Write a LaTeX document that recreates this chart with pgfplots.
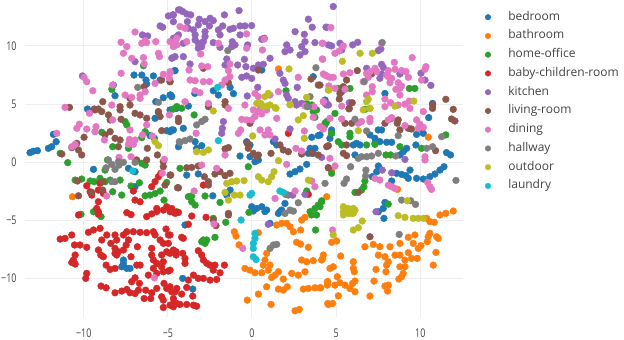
\documentclass[border=0pt]{standalone}
\usepackage{fontspec}
\setmainfont{Open Sans}
\newfontfamily\tickfont[FakeStretch=0.74]{Open Sans}
\usepackage{pgfplots}
\pgfplotsset{compat=1.18}
\definecolor{c1}{HTML}{1F77B4}
\definecolor{c2}{HTML}{FF7F0E}
\definecolor{c3}{HTML}{2CA02C}
\definecolor{c4}{HTML}{D62728}
\definecolor{c5}{HTML}{9467BD}
\definecolor{c6}{HTML}{8C564B}
\definecolor{c7}{HTML}{E377C2}
\definecolor{c8}{HTML}{7F7F7F}
\definecolor{c9}{HTML}{BCBD22}
\definecolor{c10}{HTML}{17BECF}
\definecolor{txt}{HTML}{444444}
\definecolor{gridc}{HTML}{EEEEEE}
\pgfplotsset{pt/.style={only marks,mark=*,mark size=3.4pt,color=#1,mark options={draw=none,fill=#1}}}
\begin{document}
\begin{tikzpicture}
\path[use as bounding box] (-25pt,-23pt) rectangle (599pt,317pt);
\begin{axis}[
  scale only axis,width=438pt,height=317pt,
  xmin=-13.49,xmax=12.54,ymin=-13.3,ymax=13.95,
  axis line style={draw=none},clip=false,
  xtick={-10,-5,0,5,10},xticklabels={−10,−5,0,5,10},
  ytick={-10,-5,0,5,10},yticklabels={−10,−5,0,5,10},
  major tick length=0pt,
  tick label style={font=\tickfont\fontsize{12}{14}\selectfont,text=txt},
  xticklabel style={yshift=-8pt},
  yticklabel style={xshift=-5pt},
  grid=major,major grid style={draw=gridc,line width=1pt},
  axis on top=false,
  legend style={at={(460pt,306pt)},anchor=north west,draw=none,fill=none,inner sep=0pt,
    font=\fontsize{12}{14}\selectfont,text=txt,row sep=6.75pt,
    /tikz/every odd column/.append style={column sep=17.5pt},
    nodes={inner sep=0pt,text height=9pt,text depth=3pt}},
  legend cell align=left,
  legend image post style={mark size=2.8pt},
]
\addplot[pt=c1] coordinates {(-8.24,6.64)(-8.14,5.72)(-7.01,7.5)(-6.55,7.5)(-6.3,7.07)(-6.26,6.73)(-5.86,7.42)(-5.46,7.07)(-4.83,5.78)(-5.27,5.55)(-5.72,5.21)(-4.61,7.87)(-4.57,4.63)(-9.78,4.58)
(-13.19,.83)(-13,.95)(-12.75,1)(-12.1,1.2)(-11.9,1.34)(-11.64,1.77)(-11.8,2.4)(-9.42,-.61)(-5.76,3.78)(-5.56,4.3)(-6.06,2.29)(-5.8,2.06)(-5.07,2.72)(-4.77,2.78)(-4.87,4.5)(-4.47,4.64)(-7.34,-.52)(-6.95,-.81)(-6.95,-2.1)(-4.37,1.34)
(-4.87,2.63)(-4.67,2.78)(-4.08,2.92)(-3.38,1.77)(-3.29,1.2)(-2.99,1.43)(-3.88,-1.1)(-3.19,-1)(-.71,.54)(-.32,1.77)(-.12,1.49)(-.12,.48)(.18,.05)(.38,.19)(1.27,1.77)(1.47,1.49)(2.26,-1.01)(2.56,-.81)(2.85,-.58)(3.25,-.18)(3.45,1.2)(3.74,1.2)(3.64,.77)(3.35,.77)(3.55,2.15)(3.94,2.29)(-1.3,-2.39)(-1.5,-2.82)(-.02,-3.82)(.28,-3.97)(.58,-3.82)(.87,-4.11)(1.96,-3.54)(1.76,-4.11)(1.57,-4.4)(-2.33,-2.88)
(-2.3,6.15)(-2,5.78)(-1.5,7.07)(-1.3,6.44)(-1.1,5.9)(-4.87,5.78)(-4.77,5.64)(-4.57,7.88)(-3.4,5.92)(-3.78,4.83)(3.64,7.36)(.58,7.93)
(4.73,2.78)(4.63,2.06)(4.73,2.49)(7.7,2.78)(7.5,2.78)(7.01,2.35)(7.31,2.06)(7.31,1.63)(7.6,1.77)(8,1.72)(8.3,1.72)(6.22,1.63)(6.02,1.49)(6.42,1.49)(6.12,.63)(4.04,2.35)(10.5,3.84)(9.78,2.4)(10.18,2.49)(9.98,2.92)(9.19,1.2)(8.99,.91)(8.79,.63)(9.74,1.49)(11.56,.83)(11.8,.63)(7.51,-.32)(7.41,-.81)(7.15,-1.24)(8.59,-.95)(8.89,-1.04)(9.15,-1.15)(9.29,-1.38)(9.39,-.67)(8.3,-1.61)(9.78,-1.38)(10.18,-1.44)(10.57,-1.24)(10.87,-1.01)(11.17,-.67)(11.41,-.38)(7.51,-4.25)(7.8,-3.97)(7.9,-3.45)(7.84,-4.82)
(7.9,5.92)(10.73,5.06)(4.34,5.35)(-3.98,-5.39)(-4.12,-9.98)(-3.52,-10.9)(1.07,-5.25)(-7.64,-8.4)(-7.74,-8.98)(-7.44,-9.12)(-7.25,-9.12)(-7.64,-8.7)(.08,-4.19)(.77,-4.24)(1.66,-4.24)};
\addlegendentry{bedroom}
\addplot[pt=c2] coordinates {(-1.05,-5.97)(-.95,-6.34)(-.77,-7.1)(.38,-6.05)(1.47,-5.39)(1.76,-5.25)(2.06,-5.25)(2.26,-5.54)(2.46,-5.97)(2.95,-4.96)(3.15,-4.73)(2.89,-5.82)(2.65,-6.88)(2.89,-7.03)(3.35,-7.31)(4.24,-7.97)(4.14,-8.4)(2.95,-8.4)(3.25,-8.55)(3.64,-8.46)(.87,-7.83)(.77,-8.4)(.67,-8.84)(1.07,-8.84)(-.42,-9.12)(-.12,-9.27)(.18,-9.5)(.58,-9.5)(.97,-9.27)(1.57,-9.41)(1.37,-9.7)(1.17,-9.9)(1.86,-10.04)(2.36,-9.55)(2.75,-9.7)(3.15,-9.41)(.87,-10.7)(1.57,-10.9)(1.86,-10.99)(2.1,-10.7)(3.05,-10.9)(3.35,-10.84)(3.74,-10.79)(4.08,-10.79)(4.5,-10.27)(4.5,-12.14)(.38,-11.33)(-.28,-11.85)(1.13,-12.22)(2.56,-12.77)(2.81,-12.65)
(11.96,-4.19)(11.52,-4.39)(11.17,-4.53)(10.38,-4.82)(10.57,-5.1)(10.83,-5.16)(10.47,-6.4)(10.57,-6.11)(10.97,-6.4)(11.07,-6.54)(10.42,-6.83)(9.29,-6.45)(9.68,-6.25)(9.58,-6.97)(9.88,-7.4)(10.04,-7.17)(10.93,-7.75)(10.77,-8.84)(8.79,-6.97)(8.2,-7.26)(7.6,-7.26)(7.21,-7.06)(6.71,-7.26)(7.51,-7.98)(8.5,-7.98)(8.79,-7.98)(9.29,-7.77)(7.9,-8.12)(8.1,-8.55)(8,-8.84)(9.09,-8.41)(9.48,-8.26)(9.82,-8.26)(8.79,-8.98)(9.09,-8.98)(7.37,-9.21)(7.96,-9.41)(8.99,-9.55)(8.89,-9.84)(8.73,-10.04)(7.25,-10.21)(7.9,-10.64)(8.1,-10.56)(8.06,-11.07)(7.01,-11.5)(6.02,-8.55)(6.02,-9.12)(6.08,-9.41)(6.12,-10.21)(5.98,-10.41)(5.27,-8.06)(4.83,-8.98)(4.63,-9.12)(5.07,-9.84)(5.23,-10.36)(5.53,-10.56)(5.82,-10.85)(6.12,-11.13)(4.48,-10.27)(4.48,-10.56)(4.93,-10.56)(4.04,-10.79)(5.13,-11.48)(4.54,-12.22)(4.79,-12.14)(4.73,-6.88)(5.03,-6.77)(4.2,-8.26)
(10.48,2.15)(8.65,-2.33)(4.44,-2.96)(4.73,-.75)(-10.67,-2.96)(1.57,8.02)};
\addlegendentry{bathroom}
\addplot[pt=c3] coordinates {(-10.95,-.03)(-10.51,-1.53)(-10.12,-1.44)(-9.62,-1.61)(-9.38,-1.67)(-9.03,-1.38)(-8.73,-1.67)(-8.43,-1.53)(-7.84,-1.53)(-8.28,-2.53)(-7.74,-2.82)(-7.19,-2.04)(-6.69,-1.76)(-6.35,-2.88)(-6.06,-2.82)(-5.76,-2.68)(-5.46,-2.47)(-5.07,-1.73)(-5.23,-3.25)(-9.42,-4.25)(-8.93,2.58)(-8.28,1.34)(-7.54,3.5)(-7.44,3.21)(-7.34,1.2)(-6.35,2.63)(-6.55,2.12)(-6.55,-.09)(-6.35,-.24)(-8.59,.2)(-8.73,-.67)(-11.4,.77)(-4.47,-4.25)(-4.67,4.58)
(-3.44,4.07)(-4.28,-.52)(-.22,-.38)(-3.78,-2.96)(-3.58,-2.88)(-2.79,-2.9)(-3.58,-3.39)(-3.38,-3.68)(-1.9,-3.45)(-.18,-4.31)(3.45,-4.25)(3.74,-3.97)(3.94,-3.68)(4.14,-3.31)(4.34,3.21)(4.44,3.5)(3.74,3.87)(3.55,4.93)(3.84,4.5)(3.64,4.36)(-4.18,4.64)(-4.47,4.79)(3.25,-2.47)
(4.73,2.49)(4.34,3.35)(4.93,4.2)(5.13,1.77)(5.33,1.49)(5.82,2.49)(5.82,2.2)(6.81,1.49)(7.31,1.54)(8.79,1.34)(7.96,.63)(8.24,.63)(10.08,1.2)(11.52,2.35)(4.73,-.95)(6.71,-1.61)(6.65,-2.1)(6.51,-2.39)(6.12,-2.59)(8.1,-3.6)(4.14,-3.4)(4.04,-3.82)
(5.82,6.35)(5.13,6.35)(9.35,6.35)(9.68,6.35)(6.71,4.55)(2.02,6.15)(3.25,5.06)(-6.45,8.3)(-8.33,6.27)
(-2.89,-6.68)(-2.79,-6.97)(-2.99,-6.83)(-2.69,-6.68)(-2.2,-6.45)(-1.56,-5.16)(-2.3,-4.82)(3.78,-5.82)(3.54,-4.53)(3.84,-4.53)(-10.16,-4.47)(-8.97,-4.67)};
\addlegendentry{home-office}
\addplot[pt=c4] coordinates {(-10.31,-4.53)(-9.13,-4.47)(-7.44,-4.33)(-7.19,-4.5)(-6.26,-4.67)(-5.96,-4.44)(-5.66,-4.24)(-4.77,-4.24)(-4.57,-4.39)(-11.4,-6.6)(-11.11,-6.54)(-10.71,-6.25)(-9.72,-6.02)(-9.42,-5.82)(-9.03,-5.68)(-8.93,-6.68)(-8.63,-6.25)(-8.14,-6.25)(-8.04,-6.68)(-8.39,-6.97)(-7.64,-6.25)(-7.44,-5.97)(-7.05,-5.97)(-7.34,-6.68)(-7.48,-7.11)(-6.65,-6.02)(-6.26,-6.05)(-5.86,-5.97)(-5.76,-6.25)(-5.11,-5.74)(-4.97,-6.25)(-5.46,-6.68)(-5.27,-6.97)(-4.97,-6.97)(-10.55,-7.11)(-10.22,-7.11)(-9.82,-7.31)(-10.51,-7.97)(-10.61,-8.4)(-10.71,-8.61)(-10.51,-8.75)(-9.13,-7.54)(-8.99,-7.97)(-8.83,-8.12)(-8.14,-7.4)(-7.94,-7.69)(-7.64,-7.54)(-8.14,-7.83)(-8.04,-7.97)(-6.81,-7.26)(-7.19,-8.12)(-5.96,-7.4)(-5.96,-7.97)(-5.86,-8.4)(-5.66,-8.69)(-5.37,-7.97)(-5.07,-7.69)(-4.67,-7.54)(-4.51,-7.97)(-5.27,-8.55)(-5.37,-8.98)(-5.27,-9.41)(-4.97,-9.35)(-8.67,-8.84)(-8.43,-9.21)(-8.14,-9.12)(-6.85,-8.84)(-6.65,-8.84)(-5.86,-9.12)(-6.16,-9.7)(-5.66,-9.55)(-9.82,-9.55)(-9.88,-9.98)(-6.95,-9.93)(-7.15,-10.27)(-6.69,-10.41)(-7.44,-10.93)(-7.25,-11.22)(-6.95,-11.28)(-6.75,-10.99)(-8.14,-11.22)(-7.74,-11.07)(-8.97,-10.64)(-8.67,-10.79)(-6.32,-10.99)(-5.96,-11.22)(-5.66,-10.84)(-6.41,-11.71)(-6.02,-11.71)(-5.37,-11.56)(-5.27,-11.85)(-5.23,-10.41)(-5.07,-10.84)(-4.77,-11.13)(-4.47,-10.84)(-4.67,-11.71)(-4.87,-12.28)(-5.27,-12.48)(-4.47,-12.14)
(-3.58,-4.62)(-2.73,-4.73)(-3.78,-5.33)(-4.87,-6.25)(-4.18,-6.45)(-4.08,-6.54)(-4.67,-7.6)(-4.51,-7.69)(-4.87,-7.83)(-4.12,-7.83)(-3.98,-8.26)(-3.98,-8.69)(-3.19,-7.6)(-2.99,-7.97)(-2.89,-8.4)(-2.69,-8.69)(-2.49,-8.84)(-2.2,-8.84)(-2.3,-9.27)(-1.64,-8.84)(-1.9,-9.5)(-3.78,-10.13)(-3.48,-9.7)(-3.19,-9.98)(-2.89,-9.98)(-2.49,-10.13)(-2.1,-10.07)(-4.87,-9.27)(-4.87,-10.7)(-4.57,-11.13)(-4.18,-11.33)(-3.88,-10.76)(-3.52,-11.5)(-4.28,-12.22)(-3.88,-12.22)(-3.48,-12.28)(-3.29,-12.37)(-4.67,-12.14)(-4.67,-12.42)
(-9.82,-2.02)(-9.03,-1.81)(-9.13,-2.39)(-9.62,-2.53)(-9.52,-2.82)(-8.83,-2.68)(-9.13,-3.39)(-9.23,-3.97)(-9.13,-4.25)(-7.05,-2.47)(-6.95,-3.25)(-6.65,-3.39)(-5.96,-2.1)(-5.76,-1.67)(-5.56,-1.24)(-5.42,-.95)(-5.66,-3.97)(-5.07,-3.82)(-5.27,-4.11)(-4.87,-4.25)(-4.47,-4.31)
(-2.89,-1.96)(2.16,2.49)(3.35,-2.76)(-4.77,-3.97)(-4.37,-4.31)};
\addlegendentry{baby-children-room}
\addplot[pt=c5] coordinates {(-10.08,7.42)(-6.95,8.65)(-6.51,10.95)(-6.2,10.86)(-5.46,11.72)(-5.31,11.61)(-4.97,12.58)(-4.67,12.67)(-4.67,12.09)(-4.37,13.1)(-4.67,10.66)(-4.47,10.8)(-4.77,8.94)(-4.57,9.08)
(-4.28,13.1)(-4.12,12.96)(-3.88,12.75)(-3.64,12.67)(-4.71,12.67)(-3.13,12.3)(-3.19,11.81)(-2.79,12.09)(-2.49,12.38)(-2.3,12.18)(-2.53,11.72)(-1.64,12.67)(-.77,13.04)(-3.84,12.09)(-3.78,11.52)(-3.48,11.38)(-3.38,10.95)(-1.74,11.72)(-1.31,11.43)(-1.11,11.52)(-2,11.38)(-1.9,10.95)(-2.79,11.23)(-2.79,10.8)(-.71,11.72)(-.42,11.72)(-.02,11.75)(-.71,10.95)(-4.37,10.95)(-4.57,10.66)(-4.08,10.23)(-3.38,10.52)(-3.19,10.23)(-2.89,10.37)(-3.19,9.8)(-2.99,9.94)(-2.3,10.29)(-1.9,9.88)(-1.17,10.37)(-1.01,10.09)(-1.2,9.94)(-.26,10.09)(.58,10.57)(-4.67,9.02)(-4.08,9.08)(-1.5,8.88)(-1.6,8.36)(-3.68,8.45)(-.85,8.36)(-.45,8.85)(-.36,8.22)(.38,8.36)(.67,8.42)(1.07,8.94)(.08,8.08)(-.61,7.3)(-.32,7.42)(-.02,7.21)(2.56,11.23)(3.11,11)(3.35,12.3)(3.58,11.61)(2.06,10.09)(1.96,9.51)(2.26,9.65)(3.15,10.37)(2.95,9.94)(3.15,9.51)(2.85,9.22)(3.74,10.29)(4.44,11.61)(1.66,7.65)(1.86,7.07)(1.96,6.78)(2.69,6.44)(.34,6.44)(-.28,5.7)(2.06,5.78)(2.16,5.49)(2.56,5.21)(2.95,5.06)(2.65,4.92)(4.44,5.06)
(4.83,13.39)(4.4,11.61)(5.23,10.23)(4.54,10.09)(4.73,10)(5.98,10.09)(6.28,10.31)(5.33,9.65)(7.51,9.6)(7.66,9.74)(6.81,8.08)(7.7,8.42)(7.8,8.16)(7.7,7.59)(7.6,7.22)(8.79,7.59)(10.04,7.65)(10.28,7.07)(10.63,6.61)(4.54,4.92)(4.34,5.06)(5.78,5.12)
(-1.7,3.5)(-1.76,2.92)(-1.8,2.49)(1.37,2)(2.26,2.86)(4.14,.42)(4.44,4.93)(4.53,-.47)(2.42,-2.82)(2.16,-2.82)(3.15,-2.76)(9.09,.25)(7.74,-.67)(8.3,-.9)(7.37,-4.25)(.97,-5.33)};
\addlegendentry{kitchen}
\addplot[pt=c6] coordinates {(-10.85,4.72)(-8.87,5.21)(-7.25,5.49)(-7.84,4.78)(-7.25,4.92)(-6.41,6.5)(-5.37,7.07)(-4.87,6.93)(-9.38,4.58)(-9.13,4.58)
(-11.3,.71)(-10.71,1.26)(-10.41,1.63)(-10.31,1.06)(-10.12,.63)(-9.98,2.15)(-9.33,4.5)(-8.93,4.36)(-8.53,4.07)(-8.43,3.64)(-7.84,4.5)(-7.78,3.7)(-6.95,4.21)(-6.65,4.07)(-6.26,3.78)(-5.56,4.36)(-5.46,3.93)(-8.43,2.63)(-8.73,2.35)(-8.14,2.06)(-7.84,1.92)(-7.94,1.34)(-5.37,2.72)(-6.22,1.2)(-6.85,.2)(-6.26,.2)(-5.62,.63)(-5.27,.05)(-5.27,-.38)(-10.37,-1.61)(-8.87,-1.67)(-8.87,-2.39)(-9.52,-2.59)(-10.31,-2.88)(-4.83,-1.1)(-5.17,-1.96)(-4.37,-2.19)
(-4.37,3.78)(-4.37,3.5)(-1.4,1.26)(-1.6,1.15)(-.28,1.63)(-.22,1.2)(.08,.77)(.28,.48)(.38,.62)(1.13,.77)(1.66,1.49)(1.86,1.06)(2.16,.91)(3.55,.77)(3.94,.62)(2.95,.71)(-3.88,-.47)(-3.58,-.44)(-3.19,-.32)(-4.87,-1.1)(-4.43,-2.19)(-2.2,-1.01)(-1.9,-.81)(-1.6,-1.15)(-1.31,-.95)(-2.83,-1.24)(-2.59,-1.67)(-2.59,-1.96)(-1.4,-4.4)(-.12,3.35)
(-2.89,8.08)(.38,7.93)(.73,10.66)(3.51,7.16)(3.94,6.64)(-4.87,6.93)(-1.4,6.84)(-2.59,4.78)(-1.6,5.21)(-1.6,4.92)
(6.26,7.88)(7.11,7.59)(5.62,7.07)(5.43,6.5)(5.23,5.92)(5.33,6.07)(5.19,5.44)(5.96,5.12)(4.04,6.64)(11.52,5.41)(10.73,4.92)(10.73,4.63)(11.96,4.55)(5.78,4.63)
(11.86,3.72)(12.06,3.55)(5.76,4.59)(4.44,1.34)(4.54,1.43)(5.62,1.49)(5.43,.77)(5.62,.57)(4.54,-.47)(5.92,3.35)(5.53,3.35)(7.9,3.35)(8.3,3.78)(8.69,3.64)(8.63,3.35)(8.79,2.78)(9.29,2.92)(9.48,2.86)(10.91,1)(6.32,-2.59)(-1.4,-4.53)(-2.3,-4.96)(-2.14,-5.45)(7.01,-6.4)};
\addlegendentry{living-room}
\addplot[pt=c7] coordinates {(-6.95,11.2)(-7.78,10.32)(-7.44,9.94)(-6.55,10.23)(-6.35,10.46)(-6.26,10.29)(-5.72,10.37)(-7.64,9.37)(-7.15,8.94)(-6.45,9)(-6.41,8.45)(-5.56,9.37)(-5.5,9.08)(-4.57,10.37)(-4.47,10.09)(-9.98,7.3)(-9.82,6.93)(-9.46,6.15)(-7.78,7.65)(-8.28,6.64)(-7.54,5.78)(-7.15,5.58)(-6.65,5.78)(-6.35,6.07)(-6.65,5.49)(-5.76,6.78)(-5.27,7.56)(-4.87,7.65)(-4.91,7.22)(-8.33,4.92)(-11.11,4.72)
(-4.28,11.66)(-3.98,11.52)(-4.47,10.66)(-4.87,10.37)(-4.67,9.94)(-3.88,10.37)(-3.05,9.31)(-2,10.23)(-.32,11.03)(-.32,9.8)(.73,10.6)(.62,9.65)(4.18,10.23)(4.18,8.88)(-3.74,7.93)(-2.99,8.28)(-2.63,8.22)(-1.31,8.45)(-1.4,7.88)(-1.31,7.36)(-1.6,7.07)(-1.8,6.64)(-3.68,7.07)(-3.38,7.01)(-2.89,6.93)(-2.53,6.93)(-3.38,6.15)(-3.09,5.98)(2.75,7.3)(4.24,7.59)(4.44,7.42)(-4.87,7.79)(-3.98,5.21)(-2.59,5.06)(.18,5.92)(.38,5.64)(1.07,5.78)(1.57,6.07)(-.42,4.92)(-1.4,4.63)(3.68,4.78)(4.24,5.21)(.48,4.63)
(4.69,11.58)(4.2,10.23)(4.93,9.37)(5.19,9.57)(5.43,10)(7.7,10.23)(4.2,8.85)(4.34,7.5)(4.63,7.3)(4.83,7.3)(5.43,7.59)(5.82,7.7)(6.81,7.64)(7.01,7.79)(7.31,8.08)(7.41,7.79)(6.91,7.3)(6.61,6.93)(8.46,8.59)(8.1,7.88)(8.5,7.99)(8.89,7.88)(9.15,7.79)(8.1,7.36)(8.3,7.22)(8.2,6.84)(8,7.5)(9.29,7.3)(9.52,9)(10.34,8.22)(10.28,7.99)(10.08,7.07)(8.69,6.84)(8.89,6.56)(8.55,6.27)(8.79,6.35)(7.15,6.5)(7.15,6.07)(8.79,5.78)(4.57,6.56)(5.53,6.27)(4.93,6.35)(6.81,5.78)(7.9,5.44)(8.24,5.12)(7.9,4.78)(8.69,4.92)(9.09,5)(9.35,5.26)(4.24,5.21)(5.33,4.83)
(8.3,3.84)(8.1,3.64)(7.01,3.78)(7.01,3.5)(6.51,3.5)(6.32,3.35)(5.33,3.72)(4.63,3.78)(4.2,2.92)(9.78,3.64)(9.98,3.27)(9.88,2.92)(10.18,3)(10.18,4.36)(9.09,3.15)(9.39,4.64)(4.63,.34)(4.93,-.32)(10.28,.48)(10.28,.2)(7.31,-1.38)(7.6,-1.53)(8.1,-1.96)(8.3,-2.1)(8.5,-2.25)(10.44,-1.73)(10.57,-2.1)(10.67,-2.33)
(-.61,3.69)(-.32,3.64)(-.02,3.64)(.18,3.93)(.38,4.36)(.08,4.5)(.58,4.16)(.87,4.5)(1.47,3.78)(-.81,2.49)(-.67,2.78)(.48,2.78)(.77,2.35)(.97,2.78)(1.07,2.35)(3.11,2.69)(2.61,1.2)(2.95,.97)(-3.32,2.49)(-1.6,.62)(2.06,-.18)(-2.99,-.24)(-2.1,-.52)(4.04,3.06)(4.24,2.86)(3.64,3.87)(3.55,-1.61)(-3.44,-2.47)(1.37,-3.11)(2.56,-2.47)(3.74,-2.1)(3.15,4.84)
(-11.6,2.49)(-10.26,3.27)(-10.41,2.92)(-9.82,2.86)(-9.27,3.06)(-9.33,2.63)(-10.51,1.54)(-10.71,1.34)(-8.77,1.92)(-8.28,3.64)(-7.25,2.78)(-7.29,1.97)(-6.95,1.92)(-7.34,1.54)(-7.05,1.54)(-6.26,3.21)(-6.51,2.35)(-5.92,2.26)(-7.9,.42)(-7.19,.48)(-5.21,.25)(-5.33,-.95)(-8.63,-2.9)(-9.66,4.21)(-4.91,4.07)(-5.8,-9.93)(-2.26,-5.31)(-.55,-7.4)(4.79,-5.82)};
\addlegendentry{dining}
\addplot[pt=c8] coordinates {(-6.79,6.44)(-5.56,5.15)(-1.44,9.6)(3.8,8.13)(3.45,5.64)(3.29,4.78)(7.74,10.29)(6.67,6.93)(-8.53,.2)(-8.33,-.18)(-7.94,.05)(-7.64,0)(-7.9,-.24)(-8.14,-.61)(-8.67,-.47)(-6.95,0)(-8.33,-1.67)(-8.14,-1.67)(-4.32,1.77)
(-3.29,3.21)(-2.99,3.5)(-2.79,3.7)(-4.28,1.72)(-3.98,1.86)(-3.68,2)(3.35,4.79)(2,-2.76)(2.75,-3.48)(1.96,-4.4)(2.26,-4.11)(2.46,-4.2)(4.34,-1.81)
(6.12,3.7)(6.81,2.69)(8.69,2.29)(11.27,2.2)(10.38,1.2)(10.73,1.34)(7.51,.77)(7.11,.54)(6.81,.48)(6.51,.48)(6.32,.34)(8.55,.54)(5.86,-.38)(6.77,-.67)(6.75,-1.18)(5.62,-1.44)(5.47,-1.81)(12.12,-1.56)(8.89,-3.25)(9.43,-3.31)(9.72,-3.62)(1.27,-7.11)(1.47,-7.06)(1.07,-7.4)(8.75,-6.2)};
\addlegendentry{hallway}
\addplot[pt=c9] coordinates {(2.2,8.02)(.77,5.64)(.97,5.92)(.28,5.06)(.52,5.06)(.87,4.83)(1.43,4.63)(2.26,4.98)(3.25,5.58)(4.53,6.21)(6.42,9.37)(7.15,9.37)(5.37,8.68)(4.57,6.21)(6.91,5.41)(6.81,5.21)(9.62,5.26)(8.5,4.83)(7.01,4.63)(-5.76,1.77)(-5.56,1.43)(1.07,4.93)(1.37,4.7)(.67,4.79)(2.26,4.93)(2.75,3.64)(3.05,4.01)(3.11,2.06)(.04,2.26)(-3.29,.91)(-2.89,.85)(-2.59,1.06)(1.57,.14)(.38,-1.24)(.58,-1.53)(.97,-1.67)(1.17,-1.24)(1.31,-.81)(-1.5,-1.81)(-1.2,-1.67)(-.91,-1.61)(-.47,-1.58)(-1.6,-2.59)(-1.4,-3.25)(-1.05,-2.82)(-.71,-2.82)(3.35,-1.53)(-2.3,4.41)(6.32,2.72)(6.61,4.5)(7.01,4.64)(9.23,-3.31)
(5.43,-3.82)(5.72,-3.97)(6.02,-3.97)(5.62,-4.25)(5.43,-4.25)(5.92,-4.4)(5.43,-4.53)(5.72,-4.39)(6.02,-4.39)(6.12,-4.1)(6.55,-5.05)(6.02,-5.82)(6.32,-5.62)(8.69,-4.59)(9.09,-4.73)(9.58,-4.82)(9.88,-4.82)(10.18,-4.82)(4.83,-6.25)};
\addlegendentry{outdoor}
\addplot[pt=c10] coordinates {(-2.04,6.44)(-7.09,-.75)(-2,1.86)(-.02,-2.68)(-.12,-2.82)(1.66,-2.47)(1.86,-2.59)(-.65,-4.96)(.18,-6.11)(.18,-6.54)(.08,-6.97)(.08,-7.4)(.08,-8.12)(.24,-8.35)};
\addlegendentry{laundry}
\end{axis}
\end{tikzpicture}
\end{document}
